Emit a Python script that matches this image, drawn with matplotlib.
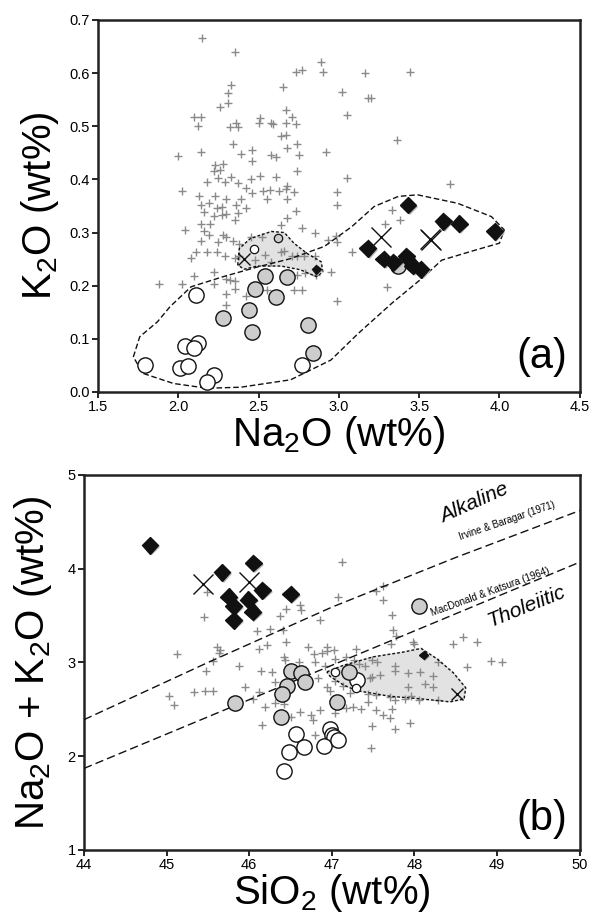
import matplotlib
matplotlib.use("Agg")
import matplotlib.pyplot as plt
import matplotlib.patheffects as pe

plt.rcParams['font.family'] = ['Liberation Sans', 'DejaVu Sans']
plt.rcParams['mathtext.fontset'] = 'custom'
plt.rcParams['mathtext.rm'] = 'Liberation Sans'
plt.rcParams['mathtext.it'] = 'Liberation Sans:italic'

# ---------------- panel (a) data: Na2O vs K2O ----------------
a_cross = [(2.15, 0.666), (2.35, 0.640), (2.89, 0.620), (2.90, 0.602), (2.73, 0.603), (2.77, 0.606),
           (3.16, 0.600), (3.44, 0.602), (2.33, 0.578), (2.65, 0.574), (2.31, 0.562), (3.02, 0.564),
           (3.18, 0.554), (3.20, 0.554), (2.26, 0.537), (2.31, 0.543), (2.67, 0.530), (3.05, 0.521),
           (2.10, 0.518), (2.14, 0.518), (2.71, 0.518), (2.51, 0.515), (2.12, 0.500), (2.32, 0.498),
           (2.37, 0.498), (2.36, 0.506), (2.50, 0.507), (2.58, 0.506), (2.59, 0.504), (2.67, 0.507),
           (2.73, 0.504), (2.64, 0.481), (2.67, 0.484), (3.36, 0.475), (2.34, 0.467), (2.68, 0.460),
           (2.74, 0.466), (2.00, 0.444), (2.14, 0.452), (2.39, 0.447), (2.46, 0.455), (2.46, 0.435),
           (2.58, 0.446), (2.61, 0.442), (2.75, 0.445), (2.92, 0.451), (2.23, 0.427), (2.28, 0.429),
           (2.26, 0.418), (2.22, 0.415), (2.74, 0.416), (2.18, 0.396), (2.25, 0.403), (2.29, 0.396),
           (2.37, 0.394), (2.33, 0.405), (2.45, 0.400), (2.51, 0.407), (2.61, 0.405), (3.05, 0.402),
           (2.02, 0.379), (2.42, 0.383), (2.46, 0.374), (2.53, 0.379), (2.57, 0.380), (2.63, 0.379),
           (2.67, 0.382), (2.68, 0.388), (2.72, 0.376), (2.99, 0.376), (3.69, 0.391), (2.13, 0.369),
           (2.23, 0.369), (2.30, 0.363), (2.39, 0.363), (2.55, 0.363), (2.68, 0.364), (2.14, 0.352),
           (2.19, 0.355), (2.24, 0.346), (2.27, 0.349), (2.36, 0.352), (2.42, 0.347), (2.73, 0.341),
           (2.99, 0.352), (2.16, 0.338), (2.22, 0.332), (2.27, 0.333), (2.30, 0.334), (2.35, 0.324),
           (2.37, 0.336), (2.68, 0.328), (2.14, 0.317), (2.20, 0.316), (2.04, 0.305), (2.64, 0.314),
           (2.77, 0.308), (2.85, 0.300), (2.16, 0.302), (2.19, 0.295), (2.14, 0.284), (2.25, 0.283),
           (2.28, 0.295), (2.30, 0.292), (2.34, 0.284), (2.38, 0.279), (2.45, 0.291), (2.52, 0.291),
           (2.93, 0.286), (2.99, 0.282), (2.98, 0.294), (2.08, 0.253), (2.11, 0.264), (2.18, 0.264),
           (2.24, 0.264), (2.29, 0.256), (2.35, 0.253), (2.38, 0.255), (2.64, 0.264), (2.66, 0.266),
           (2.71, 0.255), (2.74, 0.255), (2.78, 0.255), (2.48, 0.248), (2.54, 0.258), (2.58, 0.245),
           (2.85, 0.255), (3.08, 0.264), (3.29, 0.317), (3.33, 0.342), (3.38, 0.324), (2.22, 0.225),
           (2.10, 0.219), (2.74, 0.221), (2.79, 0.223), (2.86, 0.221), (2.95, 0.225), (1.88, 0.203),
           (2.02, 0.203), (2.22, 0.203), (2.30, 0.213), (2.32, 0.211), (2.35, 0.208), (2.35, 0.193),
           (2.30, 0.184), (2.30, 0.164), (2.42, 0.181), (2.55, 0.192), (2.72, 0.192), (2.77, 0.192),
           (2.99, 0.171), (3.30, 0.197)]

a_grey_na = [2.54, 2.68, 2.48, 2.61, 2.44, 2.28, 2.46, 2.81, 2.84, 3.37]
a_grey_k = [0.219, 0.216, 0.194, 0.178, 0.154, 0.140, 0.113, 0.126, 0.074, 0.237]
a_white_na = [2.11, 1.79, 2.04, 2.12, 2.10, 2.01, 2.06, 2.22, 2.18, 2.77]
a_white_k = [0.183, 0.050, 0.087, 0.093, 0.082, 0.046, 0.048, 0.032, 0.019, 0.050]
a_diam_na = [3.43, 3.65, 3.75, 3.97, 3.18, 3.28, 3.34, 3.42, 3.46, 3.51]
a_diam_k = [0.352, 0.321, 0.317, 0.302, 0.270, 0.250, 0.244, 0.255, 0.238, 0.231]
a_bigx_na = [3.26, 3.575, 3.565]
a_bigx_k = [0.291, 0.286, 0.288]
a_small_white = (2.47, 0.269)
a_small_grey = (2.62, 0.289)
a_small_diam = (2.86, 0.231)
a_small_x = (2.41, 0.250)

a_env_na = [1.72, 1.76, 1.87, 1.95, 2.08, 2.28, 2.49, 2.70, 2.91, 3.08, 3.22, 3.37, 3.49, 3.74,
            3.95, 4.03, 4.00, 3.85, 3.64, 3.53, 3.33, 3.12, 2.95, 2.70, 2.39, 2.18, 1.97, 1.78, 1.72]
a_env_k = [0.066, 0.104, 0.132, 0.161, 0.198, 0.217, 0.235, 0.251, 0.274, 0.311, 0.349, 0.368,
           0.371, 0.355, 0.330, 0.305, 0.280, 0.267, 0.248, 0.217, 0.167, 0.110, 0.060, 0.023,
           0.009, 0.007, 0.016, 0.035, 0.066]
a_field_na = [2.37, 2.38, 2.45, 2.58, 2.66, 2.72, 2.80, 2.89, 2.90, 2.86, 2.76, 2.64, 2.49, 2.41, 2.37]
a_field_k = [0.239, 0.270, 0.289, 0.302, 0.300, 0.280, 0.261, 0.245, 0.226, 0.217, 0.230, 0.237,
             0.237, 0.231, 0.239]

# ---------------- panel (b) data: SiO2 vs Na2O+K2O ----------------
b_cross = [(47.12, 4.07), (47.08, 3.70), (47.54, 3.76), (47.62, 3.82), (47.62, 3.67), (47.73, 3.51),
           (47.74, 3.35), (45.49, 3.75), (45.45, 3.49), (46.44, 3.57), (46.61, 3.61), (46.63, 3.56),
           (46.37, 3.50), (46.86, 3.45), (46.09, 3.34), (46.25, 3.36), (46.41, 3.35), (47.78, 3.28),
           (48.59, 3.27), (48.47, 3.20), (48.76, 3.22), (47.98, 3.22), (48.00, 3.20), (47.72, 3.20),
           (45.13, 3.09), (45.61, 3.17), (45.65, 3.13), (45.63, 3.10), (46.12, 3.14), (46.22, 3.19),
           (46.45, 3.22), (46.71, 3.16), (46.94, 3.17), (46.94, 3.12), (47.03, 3.13), (46.88, 3.10),
           (46.78, 3.09), (47.29, 3.14), (48.93, 3.02), (49.06, 3.01), (48.64, 2.95), (45.56, 3.02),
           (45.48, 2.91), (45.88, 2.96), (46.14, 2.91), (46.27, 2.90), (46.42, 3.06), (46.43, 3.03),
           (46.60, 3.01), (46.80, 3.01), (46.92, 2.96), (47.04, 3.04), (47.17, 3.06), (47.27, 3.03),
           (47.33, 2.98), (47.48, 3.03), (47.55, 3.01), (47.40, 2.96), (47.76, 2.96), (47.77, 2.91),
           (47.92, 2.89), (48.07, 2.90), (48.23, 2.86), (48.29, 3.00), (47.58, 2.87), (47.46, 2.83),
           (47.48, 2.85), (46.31, 2.79), (46.42, 2.76), (46.49, 2.80), (45.95, 2.74), (46.12, 2.69),
           (46.04, 2.61), (45.33, 2.68), (45.46, 2.70), (45.56, 2.70), (45.03, 2.64), (45.09, 2.55),
           (46.83, 2.83), (47.04, 2.80), (46.94, 2.74), (46.98, 2.70), (47.14, 2.75), (47.33, 2.80),
           (47.22, 2.67), (47.44, 2.66), (47.54, 2.65), (47.70, 2.63), (47.77, 2.60), (47.88, 2.61),
           (47.96, 2.64), (48.06, 2.60), (48.13, 2.77), (48.23, 2.74), (48.28, 2.60), (47.92, 2.74),
           (46.19, 2.52), (46.31, 2.57), (46.42, 2.56), (46.51, 2.42), (46.61, 2.47), (46.75, 2.44),
           (46.77, 2.39), (46.86, 2.49), (47.04, 2.46), (47.17, 2.51), (47.26, 2.52), (47.35, 2.50),
           (47.44, 2.58), (47.53, 2.49), (47.62, 2.44), (47.70, 2.41), (47.73, 2.50), (46.16, 2.33),
           (47.49, 2.32), (47.76, 2.29), (47.94, 2.35), (46.80, 2.23), (47.47, 2.09)]

b_grey_si = [46.51, 46.63, 46.68, 46.46, 46.40, 45.83, 47.06, 46.38, 47.21, 48.06]
b_grey_tot = [2.91, 2.89, 2.79, 2.75, 2.66, 2.57, 2.58, 2.42, 2.90, 3.60]
b_white_si = [47.30, 46.57, 46.48, 46.66, 46.42, 46.98, 47.00, 47.02, 46.90, 47.08]
b_white_tot = [2.81, 2.24, 2.05, 2.10, 1.84, 2.29, 2.23, 2.20, 2.11, 2.17]
b_diam_si = [44.80, 45.67, 46.05, 46.16, 45.75, 45.99, 45.81, 46.04, 45.81, 46.50]
b_diam_tot = [4.25, 3.96, 4.06, 3.77, 3.70, 3.67, 3.60, 3.54, 3.45, 3.73]
b_bigx_si = [45.44, 46.00]
b_bigx_tot = [3.84, 3.86]
b_small_white_si = [47.04, 47.29]
b_small_white_tot = [2.90, 2.73]
b_small_diam = (48.11, 3.08)
b_small_x = (48.52, 2.66)

b_field_si = [46.94, 47.14, 47.50, 47.86, 48.08, 48.27, 48.47, 48.62, 48.60, 48.43, 48.10, 47.70,
              47.30, 47.14, 46.98, 46.94]
b_field_tot = [2.90, 2.97, 3.06, 3.11, 3.15, 3.04, 2.89, 2.73, 2.61, 2.58, 2.61, 2.64, 2.70, 2.76,
               2.85, 2.90]

# alkaline / subalkaline boundaries
ib_si = [44.0, 45.5, 47.0, 48.5, 50.0]          # Irvine & Baragar (1971)
ib_tot = [2.39, 3.00, 3.59, 4.12, 4.62]
mk_si = [44.0, 50.0]                              # MacDonald & Katsura (1964)
mk_tot = [1.87, 4.07]

CROSS_C = '#8a8a8a'
GREY_C = '#cdcdcd'
FIELD_C = '#e2e2e2'
shadow = [pe.SimplePatchShadow(offset=(1.3, -1.3), shadow_rgbFace='#b8b8b8', alpha=1.0), pe.Normal()]


def style_axes(ax):
    for s in ax.spines.values():
        s.set_linewidth(1.8)
        s.set_color('#222222')
    ax.tick_params(direction='out', length=4, width=1.2, labelsize=10.5, pad=2,
                   top=False, right=False)


def draw_symbols(ax, cross, grey_x, grey_y, white_x, white_y, diam_x, diam_y, bx, by):
    ax.plot([c[0] for c in cross], [c[1] for c in cross], '+', color=CROSS_C, ms=5.5, mew=1.0,
            zorder=2)
    ax.plot(white_x, white_y, 'o', mfc='white', mec='#111111', mew=1.0, ms=11, zorder=4)
    ax.plot(grey_x, grey_y, 'o', mfc=GREY_C, mec='#111111', mew=1.0, ms=11, zorder=4)
    ax.plot(diam_x, diam_y, 'D', mfc='#111111', mec='#111111', ms=8.5, zorder=5, path_effects=shadow)
    ax.plot(bx, by, 'x', color='#111111', ms=14, mew=1.0, zorder=6)


fig = plt.figure(figsize=(5.94, 9.21), dpi=100)

# ---------------- (a) ----------------
ax1 = fig.add_axes([0.165, 0.5744, 0.811, 0.4039])
ax1.fill(a_field_na, a_field_k, color=FIELD_C, zorder=1)
ax1.plot(a_field_na, a_field_k, color='#111111', lw=1.0, ls=(0, (2, 1.5)), zorder=3)
draw_symbols(ax1, a_cross, a_grey_na, a_grey_k, a_white_na, a_white_k,
             a_diam_na, a_diam_k, a_bigx_na, a_bigx_k)
ax1.plot(a_env_na, a_env_k, color='#111111', lw=1.0, ls=(0, (4, 2)), zorder=3)
ax1.plot(*a_small_white, 'o', mfc='white', mec='#111111', mew=0.9, ms=6, zorder=4)
ax1.plot(*a_small_grey, 'o', mfc=GREY_C, mec='#111111', mew=0.9, ms=6, zorder=4)
ax1.plot(*a_small_diam, 'D', mfc='#111111', mec='#111111', ms=4.5, zorder=5, path_effects=shadow)
ax1.plot(*a_small_x, 'x', color='#111111', ms=8, mew=1.0, zorder=6)
ax1.set_xlim(1.5, 4.5)
ax1.set_ylim(0.0, 0.7)
ax1.set_xticks([1.5, 2.0, 2.5, 3.0, 3.5, 4.0, 4.5])
ax1.set_yticks([0.0, 0.1, 0.2, 0.3, 0.4, 0.5, 0.6, 0.7])
ax1.xaxis.set_major_formatter(matplotlib.ticker.FormatStrFormatter('%.1f'))
ax1.yaxis.set_major_formatter(matplotlib.ticker.FormatStrFormatter('%.1f'))
style_axes(ax1)
ax1.set_xlabel(r'Na$\mathregular{_2}$O (wt%)', fontsize=29, labelpad=0)
ax1.set_ylabel(r'K$\mathregular{_2}$O (wt%)', fontsize=29, labelpad=6)
ax1.text(0.975, 0.04, '(a)', transform=ax1.transAxes, ha='right', va='bottom', fontsize=30)

# ---------------- (b) ----------------
ax2 = fig.add_axes([0.1414, 0.0771, 0.8346, 0.4072])
ax2.fill(b_field_si, b_field_tot, color=FIELD_C, zorder=1)
ax2.plot(b_field_si, b_field_tot, color='#111111', lw=1.0, ls=(0, (2, 1.5)), zorder=3)
ax2.plot(ib_si, ib_tot, color='#111111', lw=1.0, ls=(0, (6, 3)), zorder=3)
ax2.plot(mk_si, mk_tot, color='#111111', lw=1.0, ls=(0, (6, 3)), zorder=3)
draw_symbols(ax2, b_cross, b_grey_si, b_grey_tot, b_white_si, b_white_tot,
             b_diam_si, b_diam_tot, b_bigx_si, b_bigx_tot)
ax2.plot(b_small_white_si, b_small_white_tot, 'o', mfc='white', mec='#111111', mew=0.9, ms=6,
         zorder=4)
ax2.plot(*b_small_diam, 'D', mfc='#111111', mec='#111111', ms=4.5, zorder=5, path_effects=shadow)
ax2.plot(*b_small_x, 'x', color='#111111', ms=8, mew=1.0, zorder=6)
ax2.set_xlim(44, 50)
ax2.set_ylim(1, 5)
ax2.set_xticks(range(44, 51))
ax2.set_yticks(range(1, 6))
style_axes(ax2)
ax2.set_xlabel(r'SiO$\mathregular{_2}$ (wt%)', fontsize=29, labelpad=0)
ax2.set_ylabel(r'Na$\mathregular{_2}$O + K$\mathregular{_2}$O (wt%)', fontsize=29, labelpad=10)
ax2.text(0.975, 0.03, '(b)', transform=ax2.transAxes, ha='right', va='bottom', fontsize=30)

ax2.text(48.35, 4.49, 'Alkaline', style='italic', fontsize=15, rotation=24,
         rotation_mode='anchor', ha='left', va='baseline')
ax2.text(48.55, 4.31, 'Irvine & Baragar (1971)', fontsize=7, rotation=19,
         rotation_mode='anchor', ha='left', va='baseline')
ax2.text(48.21, 3.49, 'MacDonald & Katsura (1964)', fontsize=7, rotation=20,
         rotation_mode='anchor', ha='left', va='baseline')
ax2.text(48.91, 3.38, 'Tholeiitic', style='italic', fontsize=15, rotation=22,
         rotation_mode='anchor', ha='left', va='baseline')

fig.savefig('out.png', dpi=100)
